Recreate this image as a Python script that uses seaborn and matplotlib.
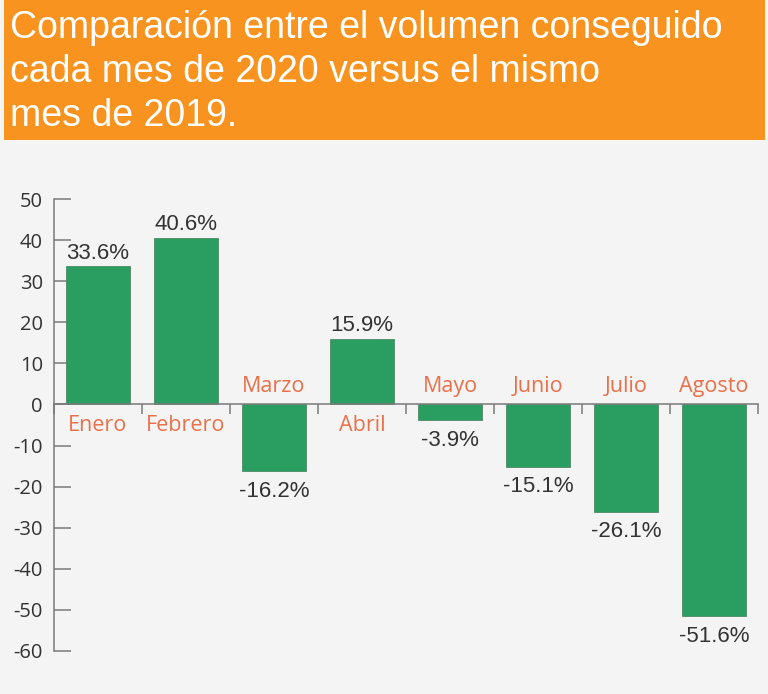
import numpy as np
import pandas as pd
import matplotlib
matplotlib.use("Agg")
import matplotlib.pyplot as plt
import seaborn as sns

months = ['Enero', 'Febrero', 'Marzo', 'Abril', 'Mayo', 'Junio', 'Julio', 'Agosto']
values = [33.6, 40.6, -16.2, 15.9, -3.9, -15.1, -26.1, -51.6]
y_ticks = [50, 40, 30, 20, 10, 0, -10, -20, -30, -40, -50, -60]
title_lines = ['Comparación entre el volumen conseguido',
               'cada mes de 2020 versus el mismo',
               'mes de 2019.']

bg = '#f4f4f4'
green = '#2a9d61'
orange = '#f7931e'
month_color = '#ea7049'
axis_color = '#7a7a7a'
text_color = '#333333'

sns.set_theme(style='white')
plt.rcParams['font.family'] = ['Liberation Sans', 'DejaVu Sans']

df = pd.DataFrame({'Mes': months, 'Valor': values})

fig = plt.figure(figsize=(7.68, 6.94), dpi=100, facecolor=bg)

# title banner
fig.patches.append(plt.Rectangle((4 / 768, 1 - 140 / 694), 761 / 768, 140 / 694,
                                 transform=fig.transFigure, facecolor=orange,
                                 edgecolor='none', zorder=0))
for i, line in enumerate(title_lines):
    fig.text(10 / 768, 1 - (38 + 44 * i) / 694, line, color='white',
             fontsize=27, va='baseline', ha='left')

ax = fig.add_axes([54 / 768, 43 / 694, 704 / 768, 452 / 694])
ax.set_facecolor(bg)
sns.barplot(data=df, x='Mes', y='Valor', color=green, width=0.72, ax=ax,
            edgecolor='#4f8a68', linewidth=0.6, saturation=1)

ax.set_xlim(-0.5, 7.5)
ax.set_ylim(-60, 50)
ax.set_yticks(y_ticks)
ax.set_yticklabels([str(t) for t in y_ticks], family='Open Sans', fontsize=14.5, color=text_color)
ax.tick_params(axis='y', direction='in', length=12, width=1.1, color=axis_color, pad=8, left=True)

ax.set_xticks(np.arange(-0.5, 8, 1))
ax.set_xticklabels([])
ax.tick_params(axis='x', direction='out', length=7, width=1.1, color=axis_color, bottom=True)
ax.set_xlabel('')
ax.set_ylabel('')

for s in ['top', 'right']:
    ax.spines[s].set_visible(False)
ax.spines['left'].set_color(axis_color)
ax.spines['left'].set_linewidth(1.1)
ax.spines['bottom'].set_position(('data', 0))
ax.spines['bottom'].set_color(axis_color)
ax.spines['bottom'].set_linewidth(1.1)

for i, (m, v) in enumerate(zip(months, values)):
    if v >= 0:
        ax.annotate(f'{v:.1f}%', (i, v), xytext=(0, 2), textcoords='offset points',
                    ha='center', va='bottom', fontsize=16, color=text_color)
        ax.annotate(m, (i, 0), xytext=(0, -15), textcoords='offset points',
                    ha='center', va='center', fontsize=15.5, color=month_color, family='Open Sans')
    else:
        ax.annotate(f'{v:.1f}%', (i, v), xytext=(0, -7), textcoords='offset points',
                    ha='center', va='top', fontsize=16, color=text_color)
        ax.annotate(m, (i, 0), xytext=(0, 13), textcoords='offset points',
                    ha='center', va='center', fontsize=15.5, color=month_color, family='Open Sans')

fig.savefig('out.png', dpi=100, facecolor=bg)
